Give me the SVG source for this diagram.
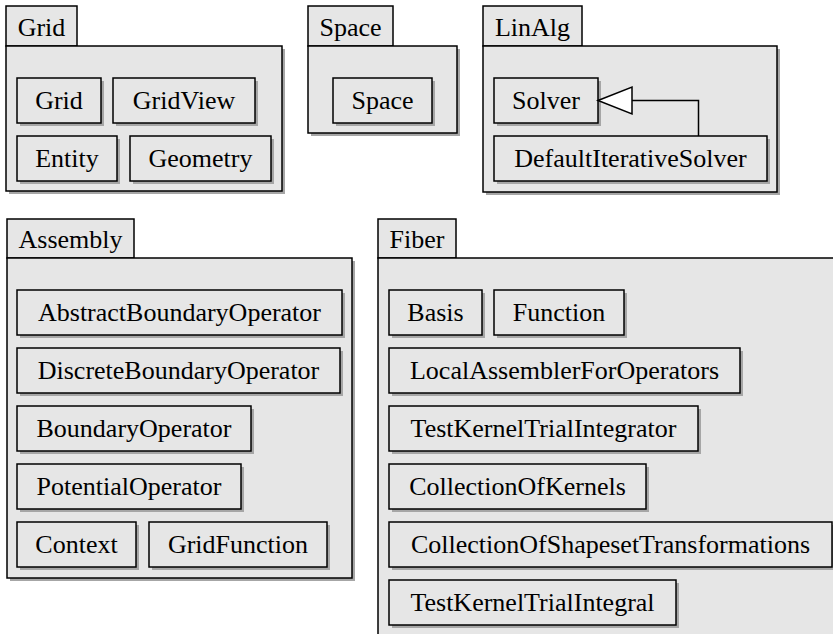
<svg xmlns="http://www.w3.org/2000/svg" width="833" height="634" viewBox="0 0 833 634" font-family="Liberation Serif, Times New Roman, serif">
<defs>
<style>
.pk{fill:#e6e6e6;stroke:#000;stroke-width:1.5}
.sh{fill:#a6a6a6}
.cl{fill:#e6e6e6;stroke:#000;stroke-width:1.5}
text{font-size:26px;fill:#000;text-anchor:middle}
.cn{fill:none;stroke:#000;stroke-width:1.5}
</style>
</defs>
<rect width="833" height="634" fill="#fff"/>
<g id="pkg-Grid">
<rect class="sh" x="9" y="49" width="276" height="145"/>
<rect class="pk" x="6" y="6" width="71" height="40"/>
<rect class="pk" x="6" y="46" width="276" height="145"/>
<text x="41.5" y="36">Grid</text>
</g>
<g id="cls-Grid"><rect class="sh" x="20" y="81" width="84" height="45"/><rect class="cl" x="17" y="78" width="84" height="45"/><text x="59" y="109">Grid</text></g>
<g id="cls-GridView"><rect class="sh" x="116" y="81" width="142" height="45"/><rect class="cl" x="113" y="78" width="142" height="45"/><text x="184" y="109">GridView</text></g>
<g id="cls-Entity"><rect class="sh" x="20" y="139" width="100" height="45"/><rect class="cl" x="17" y="136" width="100" height="45"/><text x="67" y="167">Entity</text></g>
<g id="cls-Geometry"><rect class="sh" x="133" y="139" width="141" height="45"/><rect class="cl" x="130" y="136" width="141" height="45"/><text x="200.5" y="167">Geometry</text></g>

<g id="pkg-Space">
<rect class="sh" x="311" y="49" width="149" height="87"/>
<rect class="pk" x="308" y="6" width="85" height="40"/>
<rect class="pk" x="308" y="46" width="149" height="87"/>
<text x="350.5" y="36">Space</text>
</g>
<g id="cls-Space"><rect class="sh" x="336" y="81" width="99" height="45"/><rect class="cl" x="333" y="78" width="99" height="45"/><text x="382.5" y="109">Space</text></g>

<g id="pkg-LinAlg">
<rect class="sh" x="486" y="49" width="294" height="146"/>
<rect class="pk" x="483" y="6" width="99" height="40"/>
<rect class="pk" x="483" y="46" width="294" height="146"/>
<text x="532.5" y="36">LinAlg</text>
</g>
<g id="cls-Solver"><rect class="sh" x="497" y="81" width="104" height="45"/><rect class="cl" x="494" y="78" width="104" height="45"/><text x="546" y="109">Solver</text></g>
<g id="cls-DefaultIterativeSolver"><rect class="sh" x="497" y="139" width="273" height="45"/><rect class="cl" x="494" y="136" width="273" height="45"/><text x="630.5" y="167">DefaultIterativeSolver</text></g>

<g id="pkg-Assembly">
<rect class="sh" x="10" y="261" width="345" height="320"/>
<rect class="pk" x="7" y="219" width="127" height="39"/>
<rect class="pk" x="7" y="258" width="345" height="320"/>
<text x="70.5" y="248">Assembly</text>
</g>
<g id="cls-AbstractBoundaryOperator"><rect class="sh" x="20" y="293" width="325" height="45"/><rect class="cl" x="17" y="290" width="325" height="45"/><text x="179.5" y="321">AbstractBoundaryOperator</text></g>
<g id="cls-DiscreteBoundaryOperator"><rect class="sh" x="20" y="351" width="323" height="45"/><rect class="cl" x="17" y="348" width="323" height="45"/><text x="178.5" y="379">DiscreteBoundaryOperator</text></g>
<g id="cls-BoundaryOperator"><rect class="sh" x="20" y="409" width="234" height="45"/><rect class="cl" x="17" y="406" width="234" height="45"/><text x="134" y="437">BoundaryOperator</text></g>
<g id="cls-PotentialOperator"><rect class="sh" x="20" y="467" width="224" height="45"/><rect class="cl" x="17" y="464" width="224" height="45"/><text x="129" y="495">PotentialOperator</text></g>
<g id="cls-Context"><rect class="sh" x="20" y="525" width="119" height="45"/><rect class="cl" x="17" y="522" width="119" height="45"/><text x="76.5" y="553">Context</text></g>
<g id="cls-GridFunction"><rect class="sh" x="152" y="525" width="178" height="45"/><rect class="cl" x="149" y="522" width="178" height="45"/><text x="238" y="553">GridFunction</text></g>

<g id="pkg-Fiber">
<rect class="sh" x="381" y="261" width="480" height="400"/>
<rect class="pk" x="378" y="219" width="78" height="39"/>
<rect class="pk" x="378" y="258" width="480" height="400"/>
<text x="417" y="248">Fiber</text>
</g>
<g id="cls-Basis"><rect class="sh" x="392" y="293" width="93" height="45"/><rect class="cl" x="389" y="290" width="93" height="45"/><text x="435.5" y="321">Basis</text></g>
<g id="cls-Function"><rect class="sh" x="497" y="293" width="130" height="45"/><rect class="cl" x="494" y="290" width="130" height="45"/><text x="559" y="321">Function</text></g>
<g id="cls-LocalAssemblerForOperators"><rect class="sh" x="392" y="351" width="351" height="45"/><rect class="cl" x="389" y="348" width="351" height="45"/><text x="564.5" y="379">LocalAssemblerForOperators</text></g>
<g id="cls-TestKernelTrialIntegrator"><rect class="sh" x="392" y="409" width="309" height="45"/><rect class="cl" x="389" y="406" width="309" height="45"/><text x="543.5" y="437">TestKernelTrialIntegrator</text></g>
<g id="cls-CollectionOfKernels"><rect class="sh" x="392" y="467" width="257" height="45"/><rect class="cl" x="389" y="464" width="257" height="45"/><text x="517.5" y="495">CollectionOfKernels</text></g>
<g id="cls-CollectionOfShapesetTransformations"><rect class="sh" x="392" y="525" width="443" height="45"/><rect class="cl" x="389" y="522" width="443" height="45"/><text x="610.5" y="553">CollectionOfShapesetTransformations</text></g>
<g id="cls-TestKernelTrialIntegral"><rect class="sh" x="392" y="583" width="287" height="45"/><rect class="cl" x="389" y="580" width="287" height="45"/><text x="532.5" y="611">TestKernelTrialIntegral</text></g>

<g id="connectors">
<polyline class="cn" points="698.5,136 698.5,100.5 632,100.5"/>
<polygon points="598,100.5 632,87 632,114" fill="#fff" stroke="#000" stroke-width="1.5"/>
</g>
</svg>
